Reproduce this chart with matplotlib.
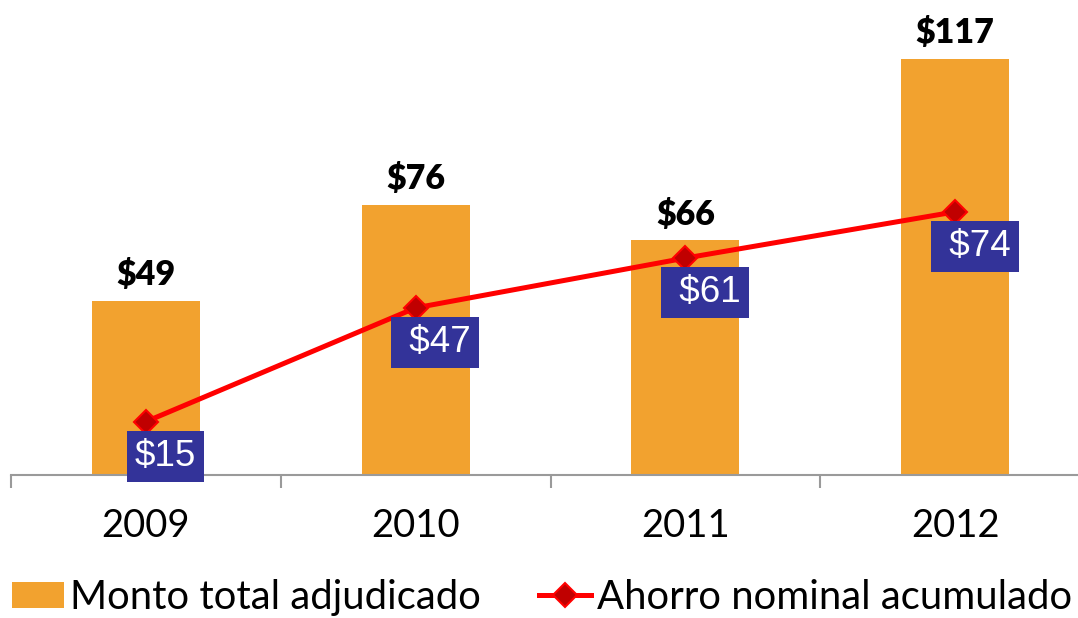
import numpy as np
import matplotlib.pyplot as plt
from matplotlib.patches import Patch
from matplotlib.lines import Line2D

# Datos del gráfico
years = ['2009', '2010', '2011', '2012']
monto_total = [49, 76, 66, 117]
ahorro_acumulado = [15, 47, 61, 74]

orange = '#F2A22F'
red = '#FF0000'
dark_red = '#C00000'
navy = '#333399'

fig = plt.figure(figsize=(10.78, 6.18), dpi=100)
# el eje se extiende un poco fuera de la imagen, como en el original
ax = fig.add_axes([11 / 1078, 143 / 618, 1079 / 1078, 462.3 / 618])

x = np.arange(len(years))
bars = ax.bar(x, monto_total, width=0.4, color=orange, zorder=2)

ax.plot(x, ahorro_acumulado, color=red, lw=3.6, marker='D', markersize=12.5,
        markerfacecolor=dark_red, markeredgecolor=red, markeredgewidth=1.5, zorder=3)

# etiquetas de las barras
for xi, v in zip(x, monto_total):
    ax.annotate(f'${v}', (xi, v), xytext=(0, 7), textcoords='offset points',
                ha='center', va='bottom', fontsize=24.5, fontweight='heavy',
                family='Lato', color='black')

# etiquetas del ahorro en recuadros azules
for i, (xi, v) in enumerate(zip(x, ahorro_acumulado)):
    label = f'${v}' if i == 0 else f' ${v}'
    ax.annotate(label, (xi, v), xytext=(14, -25), textcoords='offset points',
                ha='center', va='center', fontsize=26.5, family='Liberation Sans',
                color='white', zorder=4,
                bbox=dict(boxstyle='square,pad=0.22', fc=navy, ec='none'))

ax.set_xlim(-0.5, len(years) - 0.5)
ax.set_ylim(0, 130)
ax.set_yticks([])
for s in ['left', 'right', 'top']:
    ax.spines[s].set_visible(False)
ax.spines['bottom'].set_color('#9A9A9A')
ax.spines['bottom'].set_linewidth(1.5)

ax.set_xticks(x)
ax.set_xticklabels(years, fontsize=27.5, family='Lato')
ax.tick_params(axis='x', which='major', length=0, pad=24)
ax.set_xticks(np.arange(-0.5, len(years)), minor=True)
ax.tick_params(axis='x', which='minor', length=9, width=1.5, color='#9A9A9A', direction='out')

handles = [Patch(facecolor=orange, edgecolor='none'),
           Line2D([], [], color=red, lw=3.6, marker='D', markersize=12.5,
                  markerfacecolor=dark_red, markeredgecolor=red, markeredgewidth=1.5)]
fig.legend(handles, ['Monto total adjudicado', 'Ahorro nominal acumulado'],
           loc='lower left', bbox_to_anchor=(12 / 1078, 2 / 618), ncol=2, frameon=False,
           prop={'family': 'Lato', 'size': 28.8}, handlelength=1.3, handleheight=0.65,
           handletextpad=0.15, columnspacing=1.45, borderpad=0, borderaxespad=0)

fig.savefig('out.png', dpi=100)
